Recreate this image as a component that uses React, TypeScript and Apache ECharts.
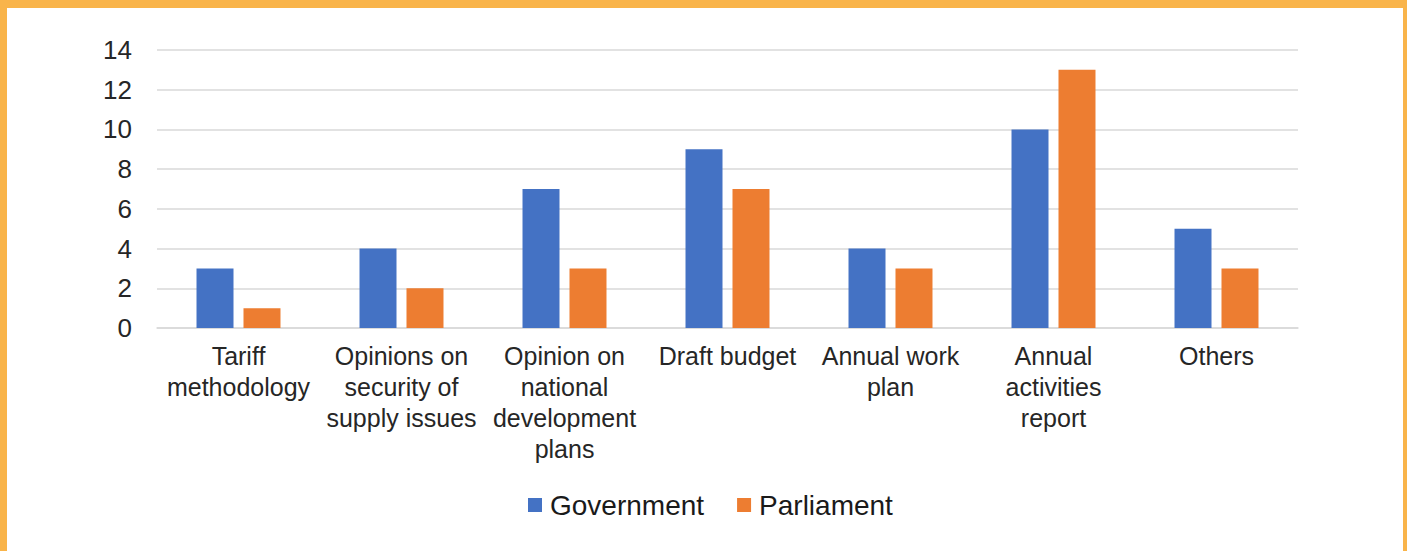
import React, { useEffect, useRef } from "react";
import * as echarts from "echarts";

const categories = [
  "Tariff\nmethodology",
  "Opinions on\nsecurity of\nsupply issues",
  "Opinion on\nnational\ndevelopment\nplans",
  "Draft budget",
  "Annual work\nplan",
  "Annual\nactivities\nreport",
  "Others",
];
const governmentValues = [3, 4, 7, 9, 4, 10, 5];
const parliamentValues = [1, 2, 3, 7, 3, 13, 3];
const yTicks = { min: 0, max: 14, interval: 2 };

const FONT = "'Liberation Sans', Arial, sans-serif";

export default function App() {
  const ref = useRef<HTMLDivElement>(null);
  useEffect(() => {
    if (!ref.current) return;
    const chart = echarts.init(ref.current, undefined, { renderer: "svg" });
    chart.setOption({
      animation: false,
      backgroundColor: "#ffffff",
      textStyle: { fontFamily: FONT },
      grid: { left: 150, right: 105, top: 42, bottom: 223, containLabel: false },
      legend: {
        left: 516,
        top: 478,
        itemWidth: 14,
        itemHeight: 14,
        itemGap: 33,
        icon: "rect",
        textStyle: {
          fontFamily: FONT,
          fontSize: 28,
          color: "#1a1a1a",
          lineHeight: 28,
          padding: [0, 0, 0, 3],
        },
        data: ["Government", "Parliament"],
      },
      xAxis: {
        type: "category",
        data: categories,
        axisTick: { show: false },
        axisLine: { lineStyle: { color: "#D9D9D9", width: 1.5 } },
        axisLabel: {
          interval: 0,
          margin: 12,
          fontFamily: FONT,
          fontSize: 25,
          lineHeight: 31,
          color: "#262626",
        },
      },
      yAxis: {
        type: "value",
        min: yTicks.min,
        max: yTicks.max,
        interval: yTicks.interval,
        axisLine: { show: false },
        axisTick: { show: false },
        splitLine: { lineStyle: { color: "#D9D9D9", width: 1.5 } },
        axisLabel: {
          margin: 25,
          fontFamily: FONT,
          fontSize: 26,
          color: "#262626",
        },
      },
      series: [
        {
          name: "Government",
          type: "bar",
          data: governmentValues,
          barWidth: 37,
          barGap: "27%",
          itemStyle: { color: "#4472C4" },
        },
        {
          name: "Parliament",
          type: "bar",
          data: parliamentValues,
          barWidth: 37,
          barGap: "27%",
          itemStyle: { color: "#ED7D31" },
        },
      ],
    });
    return () => chart.dispose();
  }, []);
  return (
    <div
      style={{
        position: "fixed",
        left: 0,
        top: 0,
        width: 1407,
        height: 551,
        background: "#F9B44A",
      }}
    >
      <div
        ref={ref}
        style={{ position: "absolute", left: 7, top: 8, width: 1396, height: 543 }}
      />
    </div>
  );
}
